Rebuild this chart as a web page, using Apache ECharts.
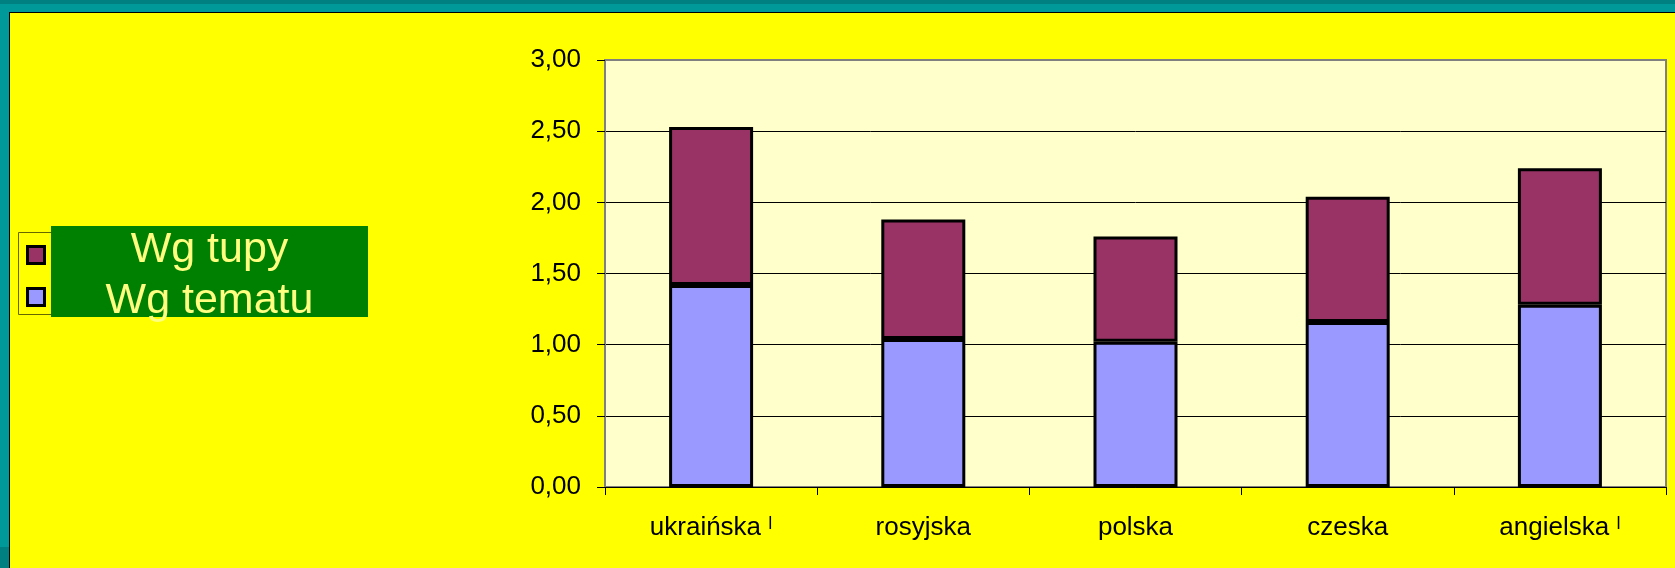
<!DOCTYPE html>
<html>
<head>
<meta charset="utf-8">
<script src="https://cdn.jsdelivr.net/npm/echarts@6/dist/echarts.min.js"></script>
<style>
  html, body { margin: 0; padding: 0; width: 1675px; height: 568px; overflow: hidden; background: #009999; }
  #band { position: absolute; left: 0; top: 0; width: 1675px; height: 4px; background: #008080; }
  #corner { position: absolute; left: 0; top: 547px; width: 9px; height: 21px; background: #008080; }
  #panel { position: absolute; left: 9px; top: 12px; width: 1665px; height: 555px; background: #ffff00;
           border-left: 1px solid #000; border-top: 1px solid #000; }
  #main { position: absolute; left: 0; top: 0; width: 1675px; height: 568px; }
</style>
</head>
<body>
<div id="band"></div>
<div id="corner"></div>
<div id="panel"></div>
<div id="main"></div>
<script>
// dane
var categories = ['ukraińska ˡ', 'rosyjska', 'polska', 'czeska', 'angielska ˡ'];
var wgTematu = [1.42, 1.04, 1.02, 1.16, 1.28];
var wgTupy = [1.11, 0.84, 0.74, 0.88, 0.96];
var legendNames = ['Wg tupy', 'Wg tematu'];

var font = '"Liberation Sans", Arial, sans-serif';
var myChart = echarts.init(document.getElementById('main'));

myChart.setOption({
    backgroundColor: 'transparent',
    animation: false,
    graphic: [
        // ramka legendy
        { type: 'rect', z: 0, shape: { x: 18.5, y: 232.5, width: 320, height: 82 },
          style: { fill: 'none', stroke: '#666600', lineWidth: 1 } },
        { type: 'rect', z: 1, shape: { x: 51, y: 226, width: 317, height: 91 },
          style: { fill: '#008000' } }
    ],
    legend: {
        data: legendNames,
        orient: 'vertical',
        left: 26,
        top: 229,
        padding: 0,
        itemGap: -10,
        itemWidth: 17,
        itemHeight: 17,
        icon: 'rect',
        itemStyle: { borderColor: '#000', borderWidth: 3 },
        formatter: function (name) {
            return (name === 'Wg tupy' ? '{a|' : '{b|') + name + '}';
        },
        textStyle: {
            rich: {
                a: { width: 320, align: 'center', fontSize: 43, fontFamily: font, color: '#ffff80',
                     lineHeight: 40, padding: [0, 0, 9, 0] },
                b: { width: 320, align: 'center', fontSize: 43, fontFamily: font, color: '#ffff80',
                     lineHeight: 40, padding: [9, 0, 0, 0] }
            }
        }
    },
    grid: {
        left: 605, right: 9, top: 60, bottom: 81,
        show: true,
        backgroundColor: '#ffffcc',
        borderColor: '#808080',
        borderWidth: 2
    },
    xAxis: {
        type: 'category',
        data: categories,
        axisLine: { lineStyle: { color: '#000', width: 1 } },
        axisTick: { show: true, length: 8, lineStyle: { color: '#000' } },
        axisLabel: { fontSize: 26, fontFamily: font, color: '#000', margin: 28 }
    },
    yAxis: {
        type: 'value',
        min: 0, max: 3, interval: 0.5,
        axisLine: { show: true, lineStyle: { color: '#808080', width: 2 } },
        axisTick: { show: true, length: 8, lineStyle: { color: '#000' } },
        splitLine: { show: true, showMaxLine: false, lineStyle: { color: '#000', width: 1 } },
        axisLabel: {
            fontSize: 26, fontFamily: font, color: '#000', margin: 24,
            formatter: function (v) { return v.toFixed(2).replace('.', ','); }
        }
    },
    series: [
        {
            name: 'Wg tematu',
            type: 'bar',
            stack: 'all',
            barWidth: 84,
            data: wgTematu,
            itemStyle: { color: '#9999ff', borderColor: '#000', borderWidth: 3 }
        },
        {
            name: 'Wg tupy',
            type: 'bar',
            stack: 'all',
            barWidth: 84,
            data: wgTupy,
            itemStyle: { color: '#993366', borderColor: '#000', borderWidth: 3 }
        }
    ]
});
</script>
</body>
</html>
